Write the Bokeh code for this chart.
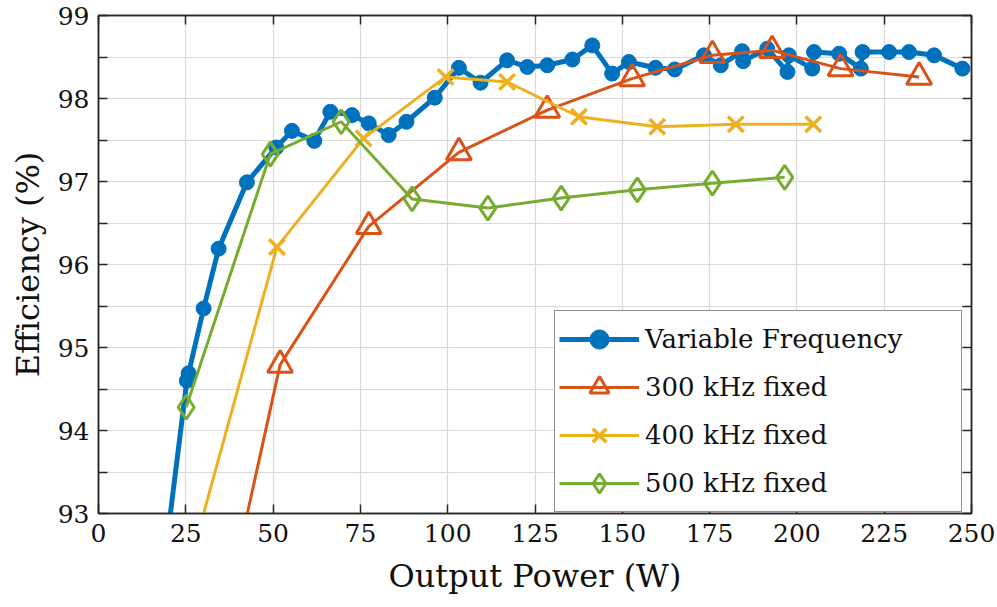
from bokeh.plotting import figure
from bokeh.models import Range1d, FixedTicker, LinearAxis, Legend, LegendItem
from bokeh.embed import file_html
from bokeh.resources import INLINE

# ---------------- data ----------------
vf_power = [17.5, 25.3, 25.8, 30.1, 34.4, 42.5, 50.9, 55.4, 61.8, 66.4, 72.6, 77.4,
            83.1, 88.2, 96.3, 103.2, 109.4, 117.0, 122.8, 128.5, 135.7, 141.4, 147.1,
            151.9, 159.5, 165.0, 173.4, 178.2, 184.3, 184.6, 191.5, 197.3, 197.7,
            204.4, 204.9, 212.1, 218.3, 218.8, 226.4, 232.1, 239.3, 247.4]
vf_eff = [91.95, 94.60, 94.69, 95.47, 96.19, 96.99, 97.41, 97.61, 97.49, 97.84, 97.80, 97.70,
          97.56, 97.72, 98.01, 98.37, 98.19, 98.46, 98.38, 98.40, 98.47, 98.64, 98.30,
          98.44, 98.37, 98.35, 98.52, 98.40, 98.57, 98.45, 98.60, 98.32, 98.52,
          98.36, 98.56, 98.54, 98.36, 98.56, 98.56, 98.56, 98.52, 98.36]

f300_power = [40.0, 52.0, 77.4, 103.2, 128.5, 152.8, 175.8, 192.9, 212.5, 235.0]
f300_eff = [92.50, 94.79, 96.46, 97.35, 97.86, 98.24, 98.52, 98.58, 98.36, 98.26]

f400_power = [25.0, 51.1, 75.9, 99.4, 117.0, 137.6, 160.0, 182.5, 204.7]
f400_eff = [92.22, 96.21, 97.52, 98.26, 98.20, 97.78, 97.66, 97.69, 97.69]

f500_power = [25.1, 49.2, 69.5, 89.8, 111.5, 132.5, 154.3, 175.8, 196.5]
f500_eff = [94.28, 97.33, 97.72, 96.79, 96.68, 96.80, 96.90, 96.98, 97.05]

series_labels = ["Variable Frequency", "300 kHz fixed", "400 kHz fixed", "500 kHz fixed"]
x_ticks = [0, 25, 50, 75, 100, 125, 150, 175, 200, 225, 250]
y_ticks = [93, 94, 95, 96, 97, 98, 99]
y_minor_ticks = [93.5, 94.5, 95.5, 96.5, 97.5, 98.5]
x_label = "Output Power (W)"
y_label = "Efficiency (%)"

# ---------------- style ----------------
FONT = "DejaVu Serif"
AX = "#262626"
GRID = "#d9d9d9"
C_BLUE, C_ORANGE, C_YELLOW, C_GREEN = "#0072BD", "#D95319", "#EDB120", "#77AC30"

p = figure(width=997, height=607, output_backend="svg", toolbar_location=None,
           x_range=Range1d(0, 250), y_range=Range1d(93, 99),
           min_border_left=98, min_border_right=26, min_border_top=15, min_border_bottom=94,
           x_axis_label=x_label, y_axis_label=y_label)
p.background_fill_color = "white"
p.border_fill_color = "white"
p.outline_line_color = AX
p.outline_line_width = 1.5

xt = FixedTicker(ticks=x_ticks, minor_ticks=[])
yt = FixedTicker(ticks=y_ticks, minor_ticks=y_minor_ticks)
p.xaxis[0].ticker = xt
p.yaxis[0].ticker = yt
p.xgrid.ticker = xt
p.ygrid.ticker = yt

p.xgrid.grid_line_color = GRID
p.ygrid.grid_line_color = GRID
p.ygrid.minor_grid_line_color = GRID
p.xgrid.grid_line_width = 1.2
p.ygrid.grid_line_width = 1.2
p.ygrid.minor_grid_line_width = 1.2


def style_axis(ax, ticks, labels=True):
    ax.axis_line_color = AX
    ax.axis_line_width = 1.5
    ax.major_tick_line_color = AX
    ax.major_tick_line_width = 1.5
    ax.minor_tick_line_color = AX
    ax.minor_tick_line_width = 1.5
    ax.major_tick_in = 9
    ax.major_tick_out = 0
    ax.minor_tick_in = 9
    ax.minor_tick_out = 0
    if labels:
        ax.major_label_text_font = FONT
        ax.major_label_text_font_size = "25px"
        ax.major_label_text_color = "#111111"
        ax.axis_label_text_font = FONT
        ax.axis_label_text_font_size = "32px"
        ax.axis_label_text_font_style = "normal"
        ax.axis_label_text_color = "#111111"
    else:
        ax.major_label_overrides = {t: "" for t in ticks}
        ax.major_label_text_font_size = "10px"
        ax.major_label_standoff = 0


style_axis(p.xaxis[0], x_ticks)
style_axis(p.yaxis[0], y_ticks)
p.xaxis[0].major_label_standoff = 10
p.yaxis[0].major_label_standoff = 9
p.xaxis[0].axis_label_standoff = 12
p.yaxis[0].axis_label_standoff = 8

top = LinearAxis(ticker=xt)
right = LinearAxis(ticker=yt)
style_axis(top, x_ticks, labels=False)
style_axis(right, y_ticks, labels=False)
p.add_layout(top, "above")
p.add_layout(right, "right")

# ---------------- series ----------------
l1 = p.line(vf_power, vf_eff, line_color=C_BLUE, line_width=5)
s1 = p.scatter(vf_power, vf_eff, marker="circle", size=15, fill_color=C_BLUE, line_color=C_BLUE)

l2 = p.line(f300_power, f300_eff, line_color=C_ORANGE, line_width=3)
s2 = p.scatter(f300_power, f300_eff, marker="triangle", size=25, fill_color=None,
               line_color=C_ORANGE, line_width=3)

l3 = p.line(f400_power, f400_eff, line_color=C_YELLOW, line_width=3)
s3 = p.scatter(f400_power, f400_eff, marker="x", size=22, line_color=C_YELLOW, line_width=3.5)

l4 = p.line(f500_power, f500_eff, line_color=C_GREEN, line_width=3)
s4 = p.scatter(f500_power, f500_eff, marker="diamond", size=24, fill_color=None,
               line_color=C_GREEN, line_width=3)

legend = Legend(items=[
    LegendItem(label=series_labels[0], renderers=[l1, s1]),
    LegendItem(label=series_labels[1], renderers=[l2, s2]),
    LegendItem(label=series_labels[2], renderers=[l3, s3]),
    LegendItem(label=series_labels[3], renderers=[l4, s4]),
], location=(456, 1))
legend.border_line_color = AX
legend.border_line_width = 1.5
legend.background_fill_color = "white"
legend.background_fill_alpha = 1.0
legend.label_text_font = FONT
legend.label_text_font_size = "26px"
legend.label_text_color = "#111111"
legend.glyph_width = 80
legend.glyph_height = 48
legend.label_height = 48
legend.label_width = 312
legend.label_standoff = 6
legend.spacing = 0
legend.padding = 4
legend.margin = 0
p.add_layout(legend)

open("out.html", "w").write(file_html(p, INLINE))
